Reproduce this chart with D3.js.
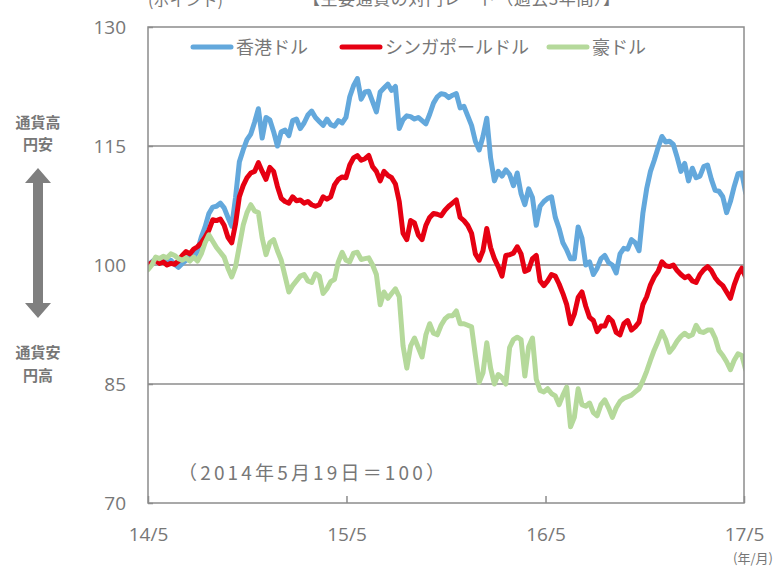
<!DOCTYPE html>
<html>
<head>
<meta charset="utf-8">
<script src="https://cdn.jsdelivr.net/npm/d3@7"></script>
<style>
body { margin: 0; background: #fff; }
svg { display: block; }
text { font-family: "Noto Sans CJK JP", sans-serif; }
.num { font-family: "Open Sans", "DejaVu Sans", sans-serif; }
</style>
</head>
<body>
<svg id="chart" width="776" height="566"></svg>
<script>
// weekly dates, 2014/5/19 start (= 100)
var dates = d3.timeDay.range(new Date(2014, 4, 19), new Date(2017, 4, 23), 7);

var hkd = [
    100.0, 100.4, 100.8, 100.5, 100.9, 100.3, 100.6, 100.1, 99.7, 100.2,
    100.6, 101.3, 100.9, 101.8, 103.5, 104.8, 106.5, 107.3, 107.4, 107.8,
    107.2, 106.0, 104.9, 108.5, 113.0, 114.5, 115.8, 116.5, 118.0, 119.7,
    116.0, 118.6, 118.3, 116.8, 115.0, 116.8, 117.0, 116.3, 118.2, 118.4,
    117.2, 117.9, 118.9, 119.4, 118.6, 118.1, 117.6, 118.4, 117.7, 117.5,
    118.2, 117.9, 118.6, 121.2, 122.6, 123.5, 120.9, 121.8, 121.9, 120.6,
    119.3, 121.8, 122.3, 122.8, 122.0, 122.5, 117.2, 118.3, 118.8, 118.7,
    118.4, 118.6, 118.2, 117.8, 119.0, 120.4, 121.2, 121.6, 121.5, 121.1,
    121.4, 121.6, 119.8, 120.0, 118.8, 117.6, 115.6, 114.5, 116.2, 118.5,
    113.5, 110.6, 111.8, 111.2, 112.0, 111.4, 110.0, 111.6, 109.0, 107.6,
    109.6, 108.5, 105.0, 107.4, 108.0, 108.4, 108.6, 106.0, 104.6, 102.8,
    101.9, 100.8, 100.8, 104.8, 103.4, 100.0, 100.4, 98.8, 99.6, 100.8,
    101.2, 100.3, 100.0, 99.0, 101.4, 102.1, 102.0, 103.2, 102.8, 101.8,
    106.5, 109.6, 111.8, 113.2, 114.8, 116.2, 115.5, 115.6, 115.2, 113.6,
    111.8, 112.8, 110.6, 112.2, 111.0, 111.2, 112.4, 112.6, 110.8, 109.4,
    109.3, 108.6, 106.6, 108.0, 109.9, 111.5, 111.6, 109.1
];

var sgd = [
    100.0, 100.3, 100.6, 100.2, 100.4, 100.0, 100.2, 100.1, 100.5, 101.2,
    101.7, 101.4, 102.0, 102.3, 102.8, 103.5, 104.4, 105.7, 105.6, 105.8,
    105.0, 103.5, 102.8, 105.2, 108.6, 110.0, 111.0, 111.6, 111.8, 112.9,
    111.8, 110.8, 112.3, 111.8, 109.9, 108.4, 108.0, 107.8, 108.6, 108.1,
    108.2, 107.8, 108.0, 107.6, 107.4, 107.6, 108.6, 108.3, 108.6, 110.1,
    110.8, 111.1, 111.0, 112.6, 113.5, 113.8, 113.2, 113.4, 113.8, 112.4,
    111.8, 110.6, 111.8, 111.3, 111.0, 110.2, 108.0, 104.0, 103.2, 105.6,
    105.3, 103.8, 103.2, 105.0, 106.0, 106.5, 106.4, 106.2, 106.9, 107.4,
    107.8, 108.2, 106.0, 105.6, 105.0, 104.0, 101.4, 100.6, 101.8, 104.6,
    102.2, 100.8, 99.8, 98.6, 101.2, 101.3, 101.5, 102.3, 101.4, 99.2,
    99.4, 100.8, 101.2, 98.0, 97.4, 98.0, 98.8, 98.6, 97.6, 96.4,
    95.0, 92.6, 93.8, 95.9, 96.6, 94.8, 93.4, 93.0, 91.6, 92.3,
    92.3, 93.4, 92.9, 91.5, 91.2, 92.6, 93.0, 91.8, 92.2, 92.8,
    95.0, 96.0, 97.5, 98.5, 99.2, 100.4, 99.9, 99.8, 100.0, 99.3,
    98.8, 98.4, 98.6, 98.0, 97.8, 98.8, 99.4, 99.8, 99.3, 98.4,
    97.8, 97.4, 96.6, 95.8, 97.5, 98.8, 99.6, 98.5
];

var aud = [
    99.4, 100.0, 101.0, 100.8, 101.1, 100.9, 101.4, 101.2, 100.8, 100.6,
    100.9, 100.5, 101.0, 100.5, 101.4, 102.8, 103.8, 103.0, 102.2, 101.6,
    101.0, 99.6, 98.5, 99.8, 102.4, 105.0, 106.6, 107.6, 106.8, 106.6,
    103.4, 101.3, 102.8, 103.2, 101.8, 100.6, 98.6, 96.6, 97.4, 98.0,
    98.6, 98.8, 98.0, 97.8, 98.9, 98.6, 96.4, 97.0, 97.9, 98.2,
    100.4, 101.6, 100.6, 100.4, 101.5, 101.6, 100.7, 100.8, 100.9, 100.0,
    98.8, 95.0, 96.6, 95.8, 96.4, 97.0, 96.0, 89.8, 87.0, 89.8,
    90.8, 89.6, 88.4, 91.2, 92.6, 91.4, 91.2, 92.4, 93.2, 93.6,
    93.6, 94.2, 92.6, 92.6, 92.4, 92.2, 88.6, 85.2, 86.4, 90.2,
    87.0, 85.0, 86.2, 85.8, 85.0, 89.6, 90.6, 90.9, 90.6, 86.0,
    89.7, 90.8, 85.6, 84.2, 84.0, 84.4, 83.8, 83.5, 82.4, 83.6,
    84.6, 79.6, 80.8, 84.4, 82.4, 82.2, 82.6, 81.4, 81.0, 82.4,
    83.0, 82.0, 80.8, 82.0, 82.8, 83.2, 83.4, 83.6, 84.0, 84.4,
    85.4, 86.6, 88.0, 89.3, 90.4, 91.6, 90.6, 89.0, 89.6, 90.4,
    91.0, 91.4, 91.0, 91.2, 92.4, 91.6, 91.5, 91.8, 91.8, 90.8,
    89.2, 88.6, 87.8, 86.8, 88.0, 88.8, 88.6, 86.8
];

var seriesNames = ["香港ドル", "シンガポールドル", "豪ドル"];
var seriesColors = ["#63A8DC", "#E60012", "#B5D99B"];
var yTicks = [70, 85, 100, 115, 130];
var xTicks = [new Date(2014, 4, 19), new Date(2015, 4, 19), new Date(2016, 4, 19), new Date(2017, 4, 19)];
var xTickLabels = ["14/5", "15/5", "16/5", "17/5"];

var margin = {left: 148, right: 32, top: 27, bottom: 63};
var width = 776, height = 566;
var grey = "#777777";
var svg = d3.select("#chart");

var x = d3.scaleTime()
    .domain([xTicks[0], xTicks[3]])
    .range([margin.left, width - margin.right]);
var y = d3.scaleLinear()
    .domain([70, 130])
    .range([height - margin.bottom, margin.top]);

svg.append("clipPath").attr("id", "plot")
    .append("rect")
    .attr("x", x.range()[0]).attr("y", y.range()[1])
    .attr("width", x.range()[1] - x.range()[0])
    .attr("height", y.range()[0] - y.range()[1]);

// grid lines
svg.append("g")
    .selectAll("line")
    .data(yTicks.slice(1, 4))
    .enter()
    .append("line")
    .attr("x1", x.range()[0]).attr("x2", x.range()[1])
    .attr("y1", d => y(d)).attr("y2", d => y(d))
    .attr("stroke", "#8c8c8c").attr("stroke-width", 1.5);

// y labels + small ticks
var yAxis = d3.axisLeft(y).tickValues(yTicks).tickSize(-5).tickPadding(22);
var gy = svg.append("g").attr("transform", "translate(" + x.range()[0] + ",0)").call(yAxis);
gy.select(".domain").remove();
gy.selectAll("line").attr("stroke", "#8c8c8c").attr("stroke-width", 1.5);
gy.selectAll("text")
    .attr("class", "num")
    .attr("fill", grey)
    .style("font-size", "19px");

// x labels + small ticks
var xAxis = d3.axisBottom(x).tickValues(xTicks).tickSize(-7)
    .tickFormat((d, i) => xTickLabels[i]).tickPadding(25);
var gx = svg.append("g").attr("transform", "translate(0," + y.range()[0] + ")").call(xAxis);
gx.select(".domain").remove();
gx.selectAll("line").attr("stroke", "#8c8c8c").attr("stroke-width", 1.5);
gx.selectAll("text")
    .attr("class", "num")
    .attr("fill", grey)
    .style("font-size", "19px");

// series
var line = d3.line()
    .x((d, i) => x(dates[i]))
    .y(d => y(d));
var series = [hkd, sgd, aud];
svg.append("g")
    .attr("clip-path", "url(#plot)")
    .selectAll("path")
    .data(series)
    .enter()
    .append("path")
    .attr("d", line)
    .attr("fill", "none")
    .attr("stroke", (d, i) => seriesColors[i])
    .attr("stroke-width", 5)
    .attr("stroke-linejoin", "round")
    .attr("stroke-linecap", "round");

// frame
svg.append("rect")
    .attr("x", x.range()[0]).attr("y", y.range()[1])
    .attr("width", x.range()[1] - x.range()[0])
    .attr("height", y.range()[0] - y.range()[1])
    .attr("fill", "none")
    .attr("stroke", "#8c8c8c")
    .attr("stroke-width", 1.5);

// legend
var legendX = [193, 342, 549];
var legend = svg.append("g")
    .selectAll("g")
    .data(seriesNames)
    .enter()
    .append("g")
    .attr("transform", (d, i) => "translate(" + legendX[i] + ",47)");
legend.append("line")
    .attr("x1", 0).attr("x2", 38)
    .attr("stroke", (d, i) => seriesColors[i])
    .attr("stroke-width", 5)
    .attr("stroke-linecap", "round");
legend.append("text")
    .attr("x", 43).attr("y", 7)
    .attr("fill", grey)
    .style("font-size", "18px")
    .text(d => d);

// note
svg.append("text")
    .attr("x", 178).attr("y", 480)
    .attr("fill", grey)
    .style("font-size", "19px")
    .attr("textLength", 267)
    .text("（2014年5月19日＝100）");

// titles cut at the top edge
svg.append("text")
    .attr("x", 148).attr("y", 6)
    .attr("fill", grey)
    .style("font-size", "16px")
    .text("(ポイント)");
svg.append("text")
    .attr("x", 303).attr("y", 5)
    .attr("fill", grey)
    .style("font-size", "17px")
    .attr("textLength", 317)
    .text("【主要通貨の対円レート（過去3年間）】");

svg.append("text")
    .attr("x", 773).attr("y", 563)
    .attr("text-anchor", "end")
    .attr("fill", grey)
    .style("font-size", "13px")
    .text("(年/月)");

// left side arrow note
var side = svg.append("g").attr("fill", grey);
[["通貨高", 128], ["円安", 150], ["通貨安", 358], ["円高", 381]].forEach(function(t) {
    side.append("text")
	.attr("x", 38).attr("y", t[1])
	.attr("text-anchor", "middle")
	.style("font-size", "15px")
	.style("font-weight", "bold")
	.text(t[0]);
});
side.append("path")
    .attr("fill", "#7f7f7f")
    .attr("d", "M38,168 L51,183 L43,183 L43,303 L51,303 L38,318 L25,303 L33,303 L33,183 L25,183 Z");
</script>
</body>
</html>
